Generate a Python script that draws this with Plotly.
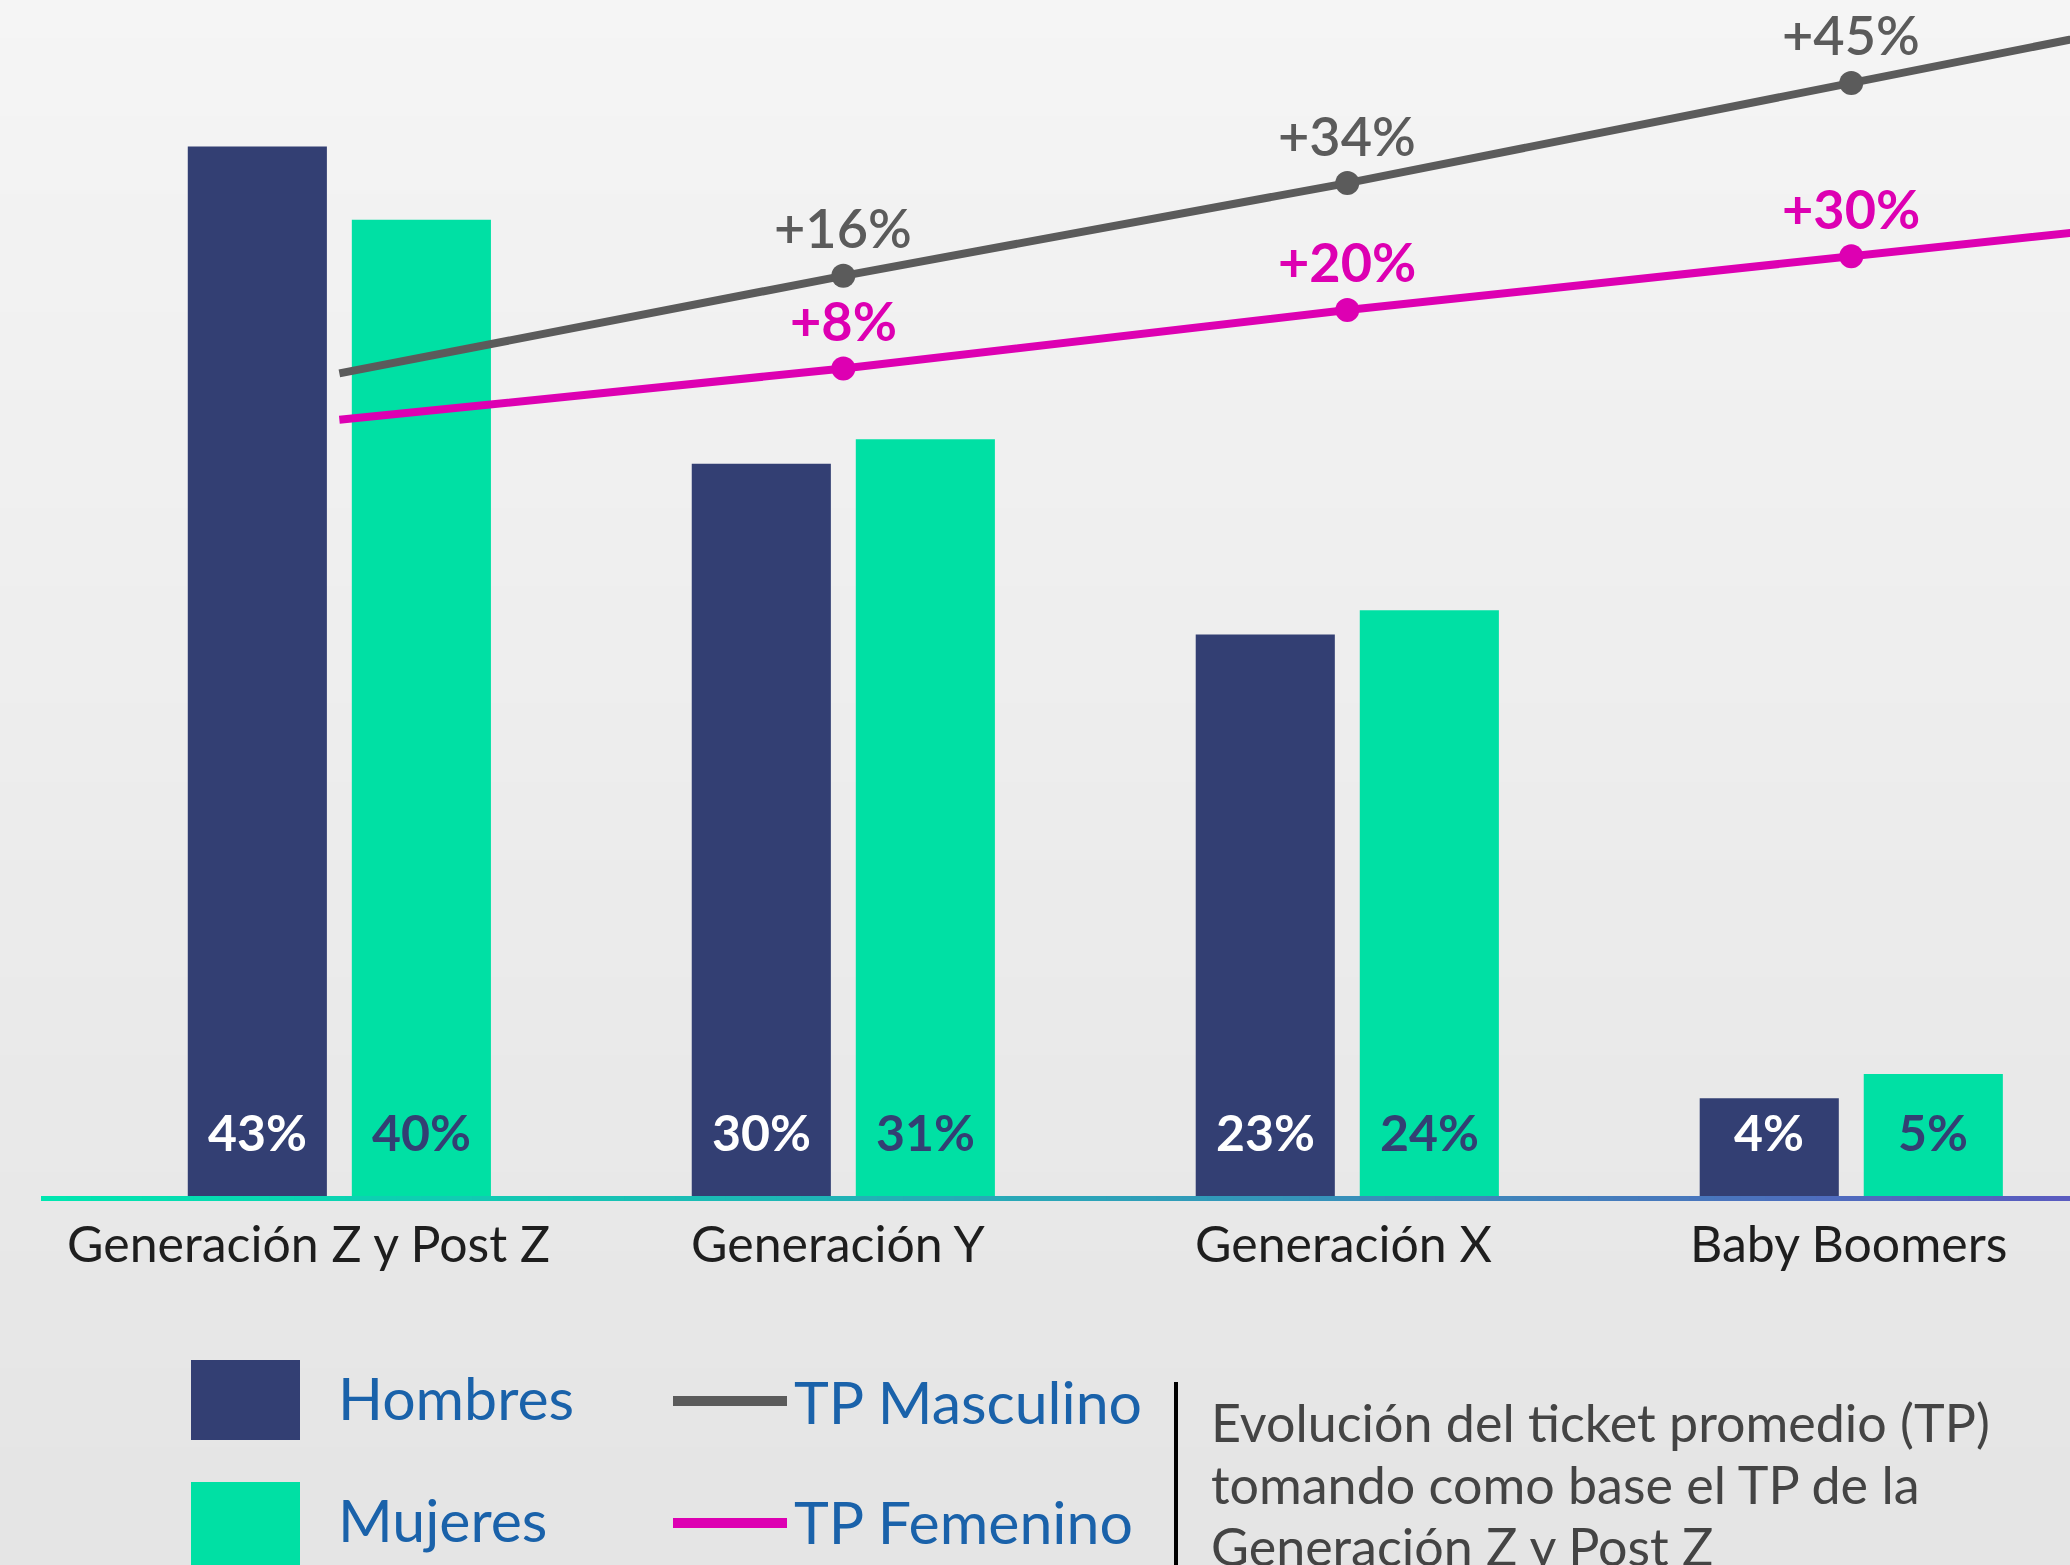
import plotly.graph_objects as go
import numpy as np

# ---------------- data ----------------
categorias = ["Generación Z y Post Z", "Generación Y", "Generación X", "Baby Boomers"]
hombres = [43, 30, 23, 4]
mujeres = [40, 31, 24, 5]
tp_masc_etiquetas = ["", "+16%", "+34%", "+45%"]
tp_fem_etiquetas = ["", "+8%", "+20%", "+30%"]
# vertical level at which each TP line is drawn in the picture (bar-axis units)
tp_masc_nivel = [33.7, 37.7, 41.5, 45.6]
tp_fem_nivel = [31.8, 33.9, 36.3, 38.5]
nota = ["Evolución del ticket promedio (TP)", "tomando como base el TP de la", "Generación Z y Post Z"]

# ---------------- style ----------------
W, H = 2070, 1565
ML, MR, MT, MB = 41, 0, 0, 369
NAVY = "#333f73"
GREEN = "#00e0a4"
GRAY = "#5b5b5b"
MAGENTA = "#dd00b2"
BLUE_TXT = "#1a62aa"
FONT = "Lato"
XR = [-0.592, 3.434]
YR = [0, 49.0]
BARGAP = 0.349
BARGROUPGAP = 0.152
CAT_XSHIFT = [-31, -5, -4, -3]   # horizontal nudge of category labels (px)

PW, PH = W - ML - MR, H - MT - MB


def px_x(p):
    return (p - ML) / PW


def px_y(p):
    return (H - MB - p) / PH


x = list(range(len(categorias)))

fig = go.Figure()
fig.add_bar(x=x, y=hombres, name="Hombres", marker_color=NAVY, marker_line_width=0)
fig.add_bar(x=x, y=mujeres, name="Mujeres", marker_color=GREEN, marker_line_width=0)


def add_tp(niveles, etiquetas, color, weight):
    xs = list(x)
    ys = list(niveles)
    # extend last segment to the right edge
    slope = ys[-1] - ys[-2]
    xe = XR[1] + 0.1
    xs.append(xe)
    ys.append(ys[-1] + slope * (xe - x[-1]))
    fig.add_trace(go.Scatter(x=xs, y=ys, mode="lines", yaxis="y2",
                             line=dict(color=color, width=8),
                             showlegend=False, cliponaxis=True, hoverinfo="skip"))
    fig.add_trace(go.Scatter(x=x[1:], y=niveles[1:], mode="markers", yaxis="y2",
                             marker=dict(size=24, color=color, opacity=1, line_width=0),
                             showlegend=False, hoverinfo="skip"))
    for xi, yi, t in zip(x, niveles, etiquetas):
        if t:
            fig.add_annotation(x=xi, y=yi, xref="x", yref="y2", text=t, showarrow=False,
                               yshift=48, font=dict(family=FONT, size=54, color=color, weight=weight))


add_tp(tp_masc_nivel, tp_masc_etiquetas, GRAY, 600)
add_tp(tp_fem_nivel, tp_fem_etiquetas, MAGENTA, 700)

# bar value labels near the base
slot = (1 - BARGAP) / 2
for xi, h, m in zip(x, hombres, mujeres):
    fig.add_annotation(x=xi - slot / 2, y=0, text=f"{h}%", showarrow=False, yshift=64,
                       font=dict(family=FONT, size=50, color="white", weight=700))
    fig.add_annotation(x=xi + slot / 2, y=0, text=f"{m}%", showarrow=False, yshift=64,
                       font=dict(family=FONT, size=50, color=NAVY, weight=700))

# category labels
for xi, c, dx in zip(x, categorias, CAT_XSHIFT):
    fig.add_annotation(x=xi, y=0, text=c, showarrow=False, yanchor="middle", yshift=-47,
                       xshift=dx, font=dict(family=FONT, size=50, color="#1e1e1e"))

shapes = []
# background vertical gradient
n = 40
top = np.array([0xf5, 0xf5, 0xf5])
bot = np.array([0xe5, 0xe5, 0xe5])
for i in range(n):
    c = top + (bot - top) * (i / (n - 1))
    shapes.append(dict(type="rect", xref="paper", yref="paper",
                       x0=px_x(0), x1=px_x(W), y0=px_y(H * (i + 1) / n), y1=px_y(H * i / n) + 0.001,
                       fillcolor="rgb(%d,%d,%d)" % tuple(c), line_width=0, layer="below"))

# gradient baseline
stops = [(0.0, (0x00, 0xe6, 0xb0)), (0.5, (0x2a, 0xa6, 0xb8)), (1.0, (0x5a, 0x5c, 0xc0))]


def grad(t):
    for (t0, c0), (t1, c1) in zip(stops[:-1], stops[1:]):
        if t <= t1:
            f = (t - t0) / (t1 - t0)
            return tuple(int(a + (b - a) * f) for a, b in zip(c0, c1))
    return stops[-1][1]


m = 80
for i in range(m):
    c = grad(i / (m - 1))
    shapes.append(dict(type="rect", xref="paper", yref="paper",
                       x0=i / m, x1=(i + 1) / m + 0.001, y0=px_y(1201), y1=px_y(1196),
                       fillcolor="rgb(%d,%d,%d)" % c, line_width=0, layer="above"))

# legend keys
shapes.append(dict(type="rect", xref="paper", yref="paper", x0=px_x(191), x1=px_x(300),
                   y0=px_y(1440), y1=px_y(1360), fillcolor=NAVY, line_width=0))
shapes.append(dict(type="rect", xref="paper", yref="paper", x0=px_x(191), x1=px_x(300),
                   y0=px_y(1566), y1=px_y(1482), fillcolor=GREEN, line_width=0))
shapes.append(dict(type="line", xref="paper", yref="paper", x0=px_x(673), x1=px_x(787),
                   y0=px_y(1401), y1=px_y(1401), line=dict(color=GRAY, width=10)))
shapes.append(dict(type="line", xref="paper", yref="paper", x0=px_x(673), x1=px_x(787),
                   y0=px_y(1523), y1=px_y(1523), line=dict(color=MAGENTA, width=10)))
shapes.append(dict(type="line", xref="paper", yref="paper", x0=px_x(1176), x1=px_x(1176),
                   y0=px_y(1382), y1=px_y(1570), line=dict(color="#000000", width=4)))

for txt, xp, yp in [("Hombres", 336, 1397), ("Mujeres", 336, 1519),
                    ("TP Masculino", 792, 1401), ("TP Femenino", 792, 1521)]:
    fig.add_annotation(x=px_x(xp), y=px_y(yp), xref="paper", yref="paper", text=txt,
                       showarrow=False, xanchor="left", yanchor="middle",
                       font=dict(family=FONT, size=59, color=BLUE_TXT))

for i, linea in enumerate(nota):
    fig.add_annotation(x=px_x(1209), y=px_y(1422 + 62 * i), xref="paper", yref="paper",
                       text=linea, showarrow=False, xanchor="left", yanchor="middle",
                       align="left", font=dict(family=FONT, size=52, color="#444444"))

fig.update_layout(
    width=W, height=H,
    margin=dict(l=ML, r=MR, t=MT, b=MB),
    paper_bgcolor="#eeeeee", plot_bgcolor="rgba(0,0,0,0)",
    barmode="group", bargap=BARGAP, bargroupgap=BARGROUPGAP,
    showlegend=False,
    hovermode=False,
    shapes=shapes,
    xaxis=dict(range=XR, tickvals=x, showticklabels=False, showgrid=False, zeroline=False,
               showline=False, ticks=""),
    yaxis=dict(range=YR, visible=False, showgrid=False),
    yaxis2=dict(range=YR, visible=False, overlaying="y", showgrid=False),
    font=dict(family=FONT),
)

fig.write_html("out.html", config={"displayModeBar": False},
               post_script="document.body.style.margin='0';")
